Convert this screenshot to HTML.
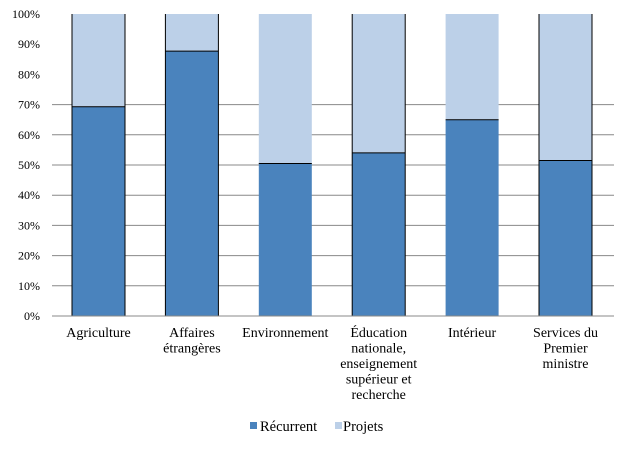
<!DOCTYPE html>
<html><head><meta charset="utf-8"><style>
body{margin:0;background:#fff;}
svg{display:block;font-family:"Liberation Serif",serif;}
</style></head><body>
<svg id="c" width="628" height="449"></svg>
<script>
const categories=[["Agriculture"],["Affaires","étrangères"],["Environnement"],["Éducation","nationale,","enseignement","supérieur et","recherche"],["Intérieur"],["Services du","Premier","ministre"]];
const recurrent=[69.3,87.7,50.5,54.0,65.0,51.5];
const projets=[30.7,12.3,49.5,46.0,35.0,48.5];
const ticks=[0,10,20,30,40,50,60,70,80,90,100];
const gridTicks=[0,10,20,30,40,50,60,70];
const sideBorder=[true,true,false,true,false,true];
const NS="http://www.w3.org/2000/svg",svg=document.getElementById('c');
const x0=52,x1=614,y0=316,y1=14,bw=53;
const y=v=>y0-(y0-y1)*v/100;
const cx=i=>98.5+i*93.4;
function mk(t,a,p){const e=document.createElementNS(NS,t);for(const k in a)e.setAttribute(k,a[k]);(p||svg).appendChild(e);return e;}
gridTicks.forEach(t=>{const l=mk('line',{x1:x0,x2:x1,y1:y(t),y2:y(t),stroke:'#888','stroke-width':1});

});
ticks.forEach(t=>{const e=mk('text',{x:40,y:y(t)+4,'text-anchor':'end','font-size':12,fill:'#000'});e.textContent=t+'%';

});
categories.forEach((c,i)=>{
 const l=cx(i)-bw/2, tot=recurrent[i]+projets[i];
 const r=mk('rect',{x:l,y:y(recurrent[i]),width:bw,height:y0-y(recurrent[i]),fill:'#4a83bd'});
 
 
 const p=mk('rect',{x:l,y:y(tot),width:bw,height:y(recurrent[i])-y(tot),fill:'#bcd0e8'});
 
 
 mk('line',{x1:l,x2:l+bw,y1:y(recurrent[i]),y2:y(recurrent[i]),stroke:'#000','stroke-width':1});
 if(sideBorder[i]){mk('line',{x1:l,x2:l,y1:y(tot),y2:y0,stroke:'#000','stroke-width':1});mk('line',{x1:l+bw,x2:l+bw,y1:y(tot),y2:y0,stroke:'#000','stroke-width':1});}
 c.forEach((s,j)=>{const t=mk('text',{x:cx(i),y:337+j*15.5,'text-anchor':'middle','font-size':14,fill:'#000'});t.textContent=s;
 
 });
});
const ax=mk('line',{x1:x0,x2:x1,y1:y0,y2:y0,stroke:'#888','stroke-width':1});


const lg=mk('g',{});


mk('rect',{x:250,y:422,width:7,height:7,fill:'#4a83bd'},lg);
const t1=mk('text',{x:260,y:431,'font-size':14.5},lg);t1.textContent='Récurrent';


mk('rect',{x:335,y:422,width:7,height:7,fill:'#bcd0e8'},lg);
const t2=mk('text',{x:343,y:431,'font-size':14.5},lg);t2.textContent='Projets';


</script>
</body></html>
